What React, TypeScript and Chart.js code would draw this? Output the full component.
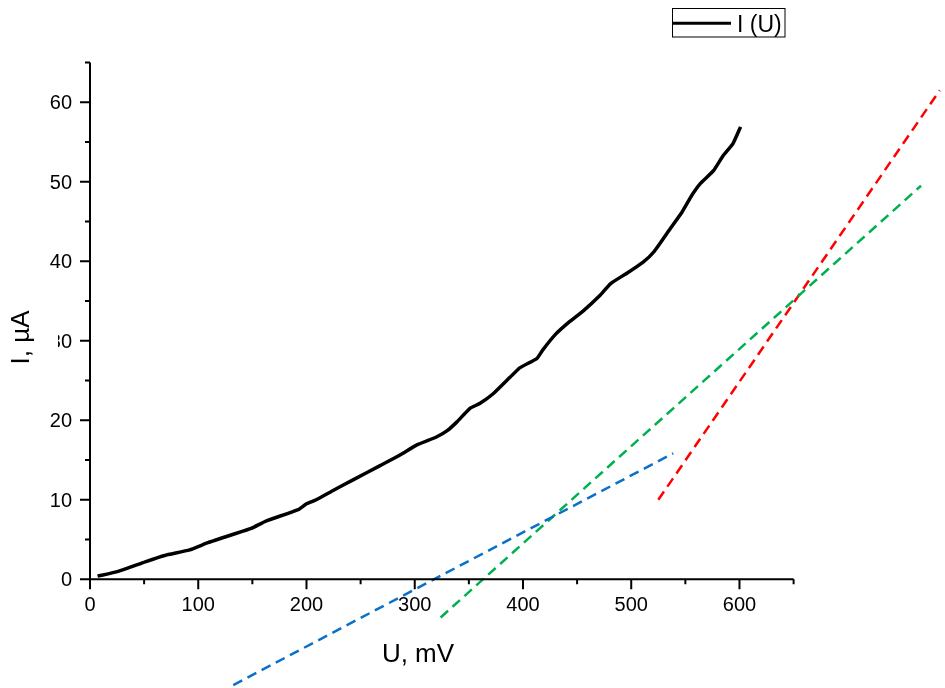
import React, { useEffect, useRef } from "react";
import { Chart, registerables } from "chart.js";

Chart.register(...registerables);

// Measured curve I(U)
const uValues = [7, 26, 51, 69, 92, 109, 131, 149, 162, 193, 200, 209, 225, 243, 268, 286, 302, 320, 330, 339, 351, 360, 373, 388, 397, 413, 418, 430, 443, 456, 471, 481, 496, 511, 521, 536, 547, 556, 564, 576, 585, 594, 601];
const iValues = [0.4, 1.0, 2.2, 3.0, 3.7, 4.6, 5.6, 6.4, 7.3, 8.8, 9.5, 10.0, 11.2, 12.5, 14.3, 15.6, 16.9, 17.9, 18.7, 19.8, 21.5, 22.1, 23.4, 25.4, 26.6, 27.8, 28.8, 30.8, 32.4, 33.8, 35.7, 37.2, 38.5, 39.9, 41.2, 44.1, 46.2, 48.3, 49.8, 51.4, 53.3, 54.8, 56.9];

// Tangent lines (dashed)
const blueU = [132.4, 538.8];
const blueI = [-13.3, 15.85];
const greenU = [323.9, 767.7];
const greenI = [-4.8, 49.5];
const redU = [525, 785];
const redI = [10.0, 61.5];

// Axis ticks
const xMajorTicks = [0, 100, 200, 300, 400, 500, 600];
const xMinorTicks = [50, 150, 250, 350, 450, 550, 650];
const yMajorTicks = [0, 10, 20, 30, 40, 50, 60];
const yMinorTicks = [5, 15, 25, 35, 45, 55, 65];

const xTitle = "U, mV";
const yTitle = "I, µA";
const legendLabel = "I (U)";

const FONT = "'Liberation Sans', Arial, sans-serif";

const toPoints = (xs: number[], ys: number[]) => xs.map((x, i) => ({ x, y: ys[i] }));

const axesPlugin = {
  id: "customAxes",
  afterDraw(chart: any) {
    const ctx = chart.ctx;
    const xs = chart.scales.x;
    const ys = chart.scales.y;
    const x0 = xs.getPixelForValue(0);
    const x1 = xs.getPixelForValue(650);
    const y0 = ys.getPixelForValue(0);
    const y1 = ys.getPixelForValue(65);
    ctx.save();
    ctx.strokeStyle = "#000";
    ctx.lineWidth = 2;
    ctx.lineCap = "butt";
    ctx.beginPath();
    ctx.moveTo(x0, y0);
    ctx.lineTo(x1, y0);
    ctx.moveTo(x0, y0);
    ctx.lineTo(x0, y1);
    ctx.stroke();
    ctx.beginPath();
    xMajorTicks.forEach((v) => {
      const p = xs.getPixelForValue(v);
      ctx.moveTo(p, y0);
      ctx.lineTo(p, y0 + 10);
    });
    xMinorTicks.forEach((v) => {
      const p = xs.getPixelForValue(v);
      ctx.moveTo(p, y0);
      ctx.lineTo(p, y0 + 5);
    });
    yMajorTicks.forEach((v) => {
      const p = ys.getPixelForValue(v);
      ctx.moveTo(x0, p);
      ctx.lineTo(x0 - 10, p);
    });
    yMinorTicks.forEach((v) => {
      const p = ys.getPixelForValue(v);
      ctx.moveTo(x0, p);
      ctx.lineTo(x0 - 5, p);
    });
    ctx.stroke();

    ctx.fillStyle = "#000";
    ctx.font = `20px ${FONT}`;
    ctx.textBaseline = "alphabetic";
    ctx.textAlign = "center";
    xMajorTicks.forEach((v) => {
      ctx.fillText(String(v), xs.getPixelForValue(v), y0 + 32);
    });
    ctx.textAlign = "right";
    yMajorTicks.forEach((v) => {
      ctx.fillText(String(v), x0 - 18, ys.getPixelForValue(v) + 7);
    });

    ctx.font = `26px ${FONT}`;
    ctx.textAlign = "center";
    ctx.fillText(xTitle, 418, 662);

    ctx.fillStyle = "#fff";
    ctx.fillRect(4, 303, 54, 70);
    ctx.fillStyle = "#000";
    ctx.save();
    ctx.translate(29, 337.5);
    ctx.rotate(-Math.PI / 2);
    ctx.textAlign = "center";
    ctx.fillText(yTitle, 0, 0);
    ctx.restore();

    ctx.lineWidth = 1;
    ctx.strokeStyle = "#000";
    ctx.strokeRect(672.5, 8.5, 112.5, 28.5);
    ctx.lineWidth = 3;
    ctx.beginPath();
    ctx.moveTo(673, 23.3);
    ctx.lineTo(731, 23.3);
    ctx.stroke();
    ctx.font = `23px ${FONT}`;
    ctx.textAlign = "left";
    ctx.fillText(legendLabel, 737, 31.5);
    ctx.restore();
  },
};

export default function App() {
  const ref = useRef<HTMLCanvasElement>(null);
  useEffect(() => {
    if (!ref.current) return;
    const dashed = (label: string, xs: number[], ys: number[], color: string) =>
      ({
        label,
        data: toPoints(xs, ys),
        borderColor: color,
        borderWidth: 2.5,
        borderDash: [10, 6],
        pointRadius: 0,
        clip: false,
      } as any);
    const chart = new Chart(ref.current, {
      type: "line",
      data: {
        datasets: [
          {
            label: legendLabel,
            data: toPoints(uValues, iValues),
            borderColor: "#000",
            borderWidth: 3.5,
            pointRadius: 0,
            tension: 0.15,
            fill: false,
          },
          dashed("blue", blueU, blueI, "#0A70C8"),
          dashed("green", greenU, greenI, "#00B050"),
          dashed("red", redU, redI, "#FF0000"),
        ],
      },
      options: {
        animation: false,
        responsive: false,
        maintainAspectRatio: false,
        layout: { padding: { left: 90, right: 151.4, top: 62.5, bottom: 108.7 } },
        plugins: { legend: { display: false }, tooltip: { enabled: false } },
        scales: {
          x: { type: "linear", min: 0, max: 650, display: false },
          y: { type: "linear", min: 0, max: 65, display: false },
        },
      },
      plugins: [axesPlugin],
    });
    return () => chart.destroy();
  }, []);
  return (
    <div style={{ position: "absolute", left: 0, top: 0, width: 945, height: 688, background: "#fff" }}>
      <canvas ref={ref} width={945} height={688} style={{ display: "block" }} />
    </div>
  );
}
